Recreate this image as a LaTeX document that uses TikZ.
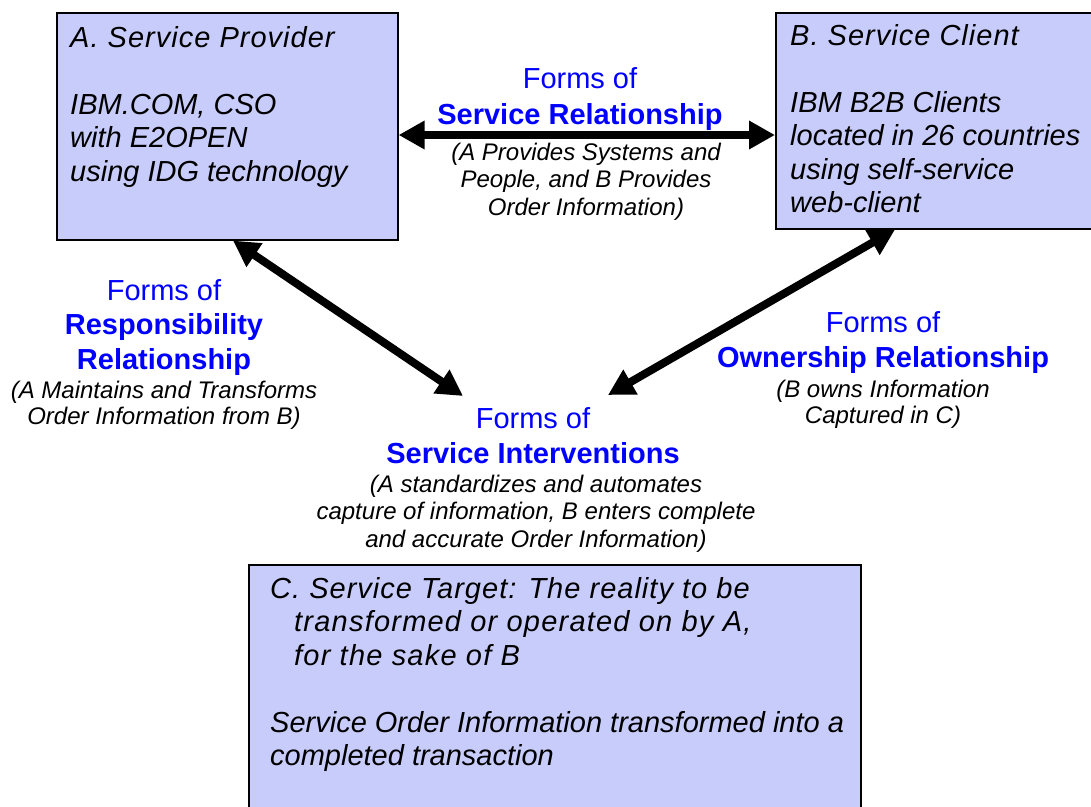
\documentclass[tikz,border=0pt]{standalone}
\usepackage{fontspec}
\setmainfont{Liberation Sans}
\newfontfamily\spacedfont[LetterSpace=3.5]{Liberation Sans}
\newfontfamily\widefont[LetterSpace=4.2]{Liberation Sans}
\usetikzlibrary{arrows.meta}
\definecolor{boxfill}{HTML}{C8CCFA}
\definecolor{labelblue}{HTML}{0000FF}
\begin{document}
\begin{tikzpicture}[x=1pt,y=-1pt,
  box/.style={draw=black, line width=1.6pt, fill=boxfill, rectangle, anchor=north west, inner sep=0pt},
  boxtext/.style={anchor=north west, inner sep=0pt, align=left, font=\fontsize{29}{33.5}\selectfont\itshape},
  bluetext/.style={anchor=north, inner sep=0pt, align=center, text=labelblue, font=\fontsize{29}{35}\selectfont},
  notetext/.style={anchor=north, inner sep=0pt, align=center, font=\fontsize{24}{27.5}\selectfont\itshape},
  notetextb/.style={anchor=north, inner sep=0pt, align=center, font=\fontsize{24}{26}\selectfont\itshape},
  bigarrow/.style={line width=8pt, black, {Triangle[length=26pt,width=27pt]}-{Triangle[length=26pt,width=27pt]}}
]
\useasboundingbox (0,0) rectangle (1091,806);
\clip (0,0) rectangle (1091,806);

% boxes
\node[box, minimum width=341pt, minimum height=227pt] (A) at (56,12) {};
\node[box, minimum width=330pt, minimum height=216pt] (B) at (775,12) {};
\node[box, minimum width=612pt, minimum height=260pt] (C) at (248,564) {};

% box texts
\node[boxtext] (Atext) at (70,23.55) {\strut{\spacedfont\itshape A. Service Provider}\\[33.5pt]IBM.COM, CSO\\with E2OPEN\\using IDG technology};
\node[boxtext] (Btext) at (790,21.55) {\strut{\spacedfont\itshape B. Service Client}\\[33.5pt]IBM B2B Clients\\located in 26 countries\\using self-service\\web-client};
\node[boxtext] (Ctext) at (270,574.55) {\strut{\spacedfont\itshape C. Service Target: The reality to be}\\\hspace*{24pt}{\widefont\itshape transformed or operated on by A,}\\\hspace*{24pt}{\widefont\itshape for the sake of B}\\[33.5pt]Service Order Information transformed into a\\completed transaction};

% service relationship label
\node[bluetext, font=\fontsize{29}{36}\selectfont] (srT) at (580,62.8) {\strut Forms of\\\textbf{Service Relationship}};
\node[notetext] (srS) at (586,140.75) {\strut (A Provides Systems and\\People, and B Provides\\Order Information)};

% responsibility label
\node[bluetext, font=\fontsize{29}{34.5}\selectfont] (rsT) at (164,275.85) {\strut Forms of\\\textbf{Responsibility}\\\textbf{Relationship}};
\node[notetextb] (rsS) at (164,379.8) {\strut (A Maintains and Transforms\\Order Information from B)};

% ownership label
\node[bluetext] (owT) at (883,307.5) {\strut Forms of\\\textbf{Ownership Relationship}};
\node[notetextb] (owS) at (883,378.8) {\strut (B owns Information\\Captured in C)};

% service interventions label
\node[bluetext] (siT) at (533,403.5) {\strut Forms of\\\textbf{Service Interventions}};
\node[notetext] (siS) at (536,472.75) {\strut (A standardizes and automates\\capture of information, B enters complete\\and accurate Order Information)};

% connector coordinates
\coordinate (abY) at (0,135);
\coordinate (rX) at (233,0);
\coordinate (rEnd) at (463,396);
\coordinate (oX) at (895,0);
\coordinate (oEnd) at (608,395);

% arrows
\draw[bigarrow] (A.east |- abY) -- (B.west |- abY);
\draw[bigarrow] (A.south -| rX) -- (rEnd);
\draw[bigarrow] (B.south -| oX) -- (oEnd);
\end{tikzpicture}
\end{document}
